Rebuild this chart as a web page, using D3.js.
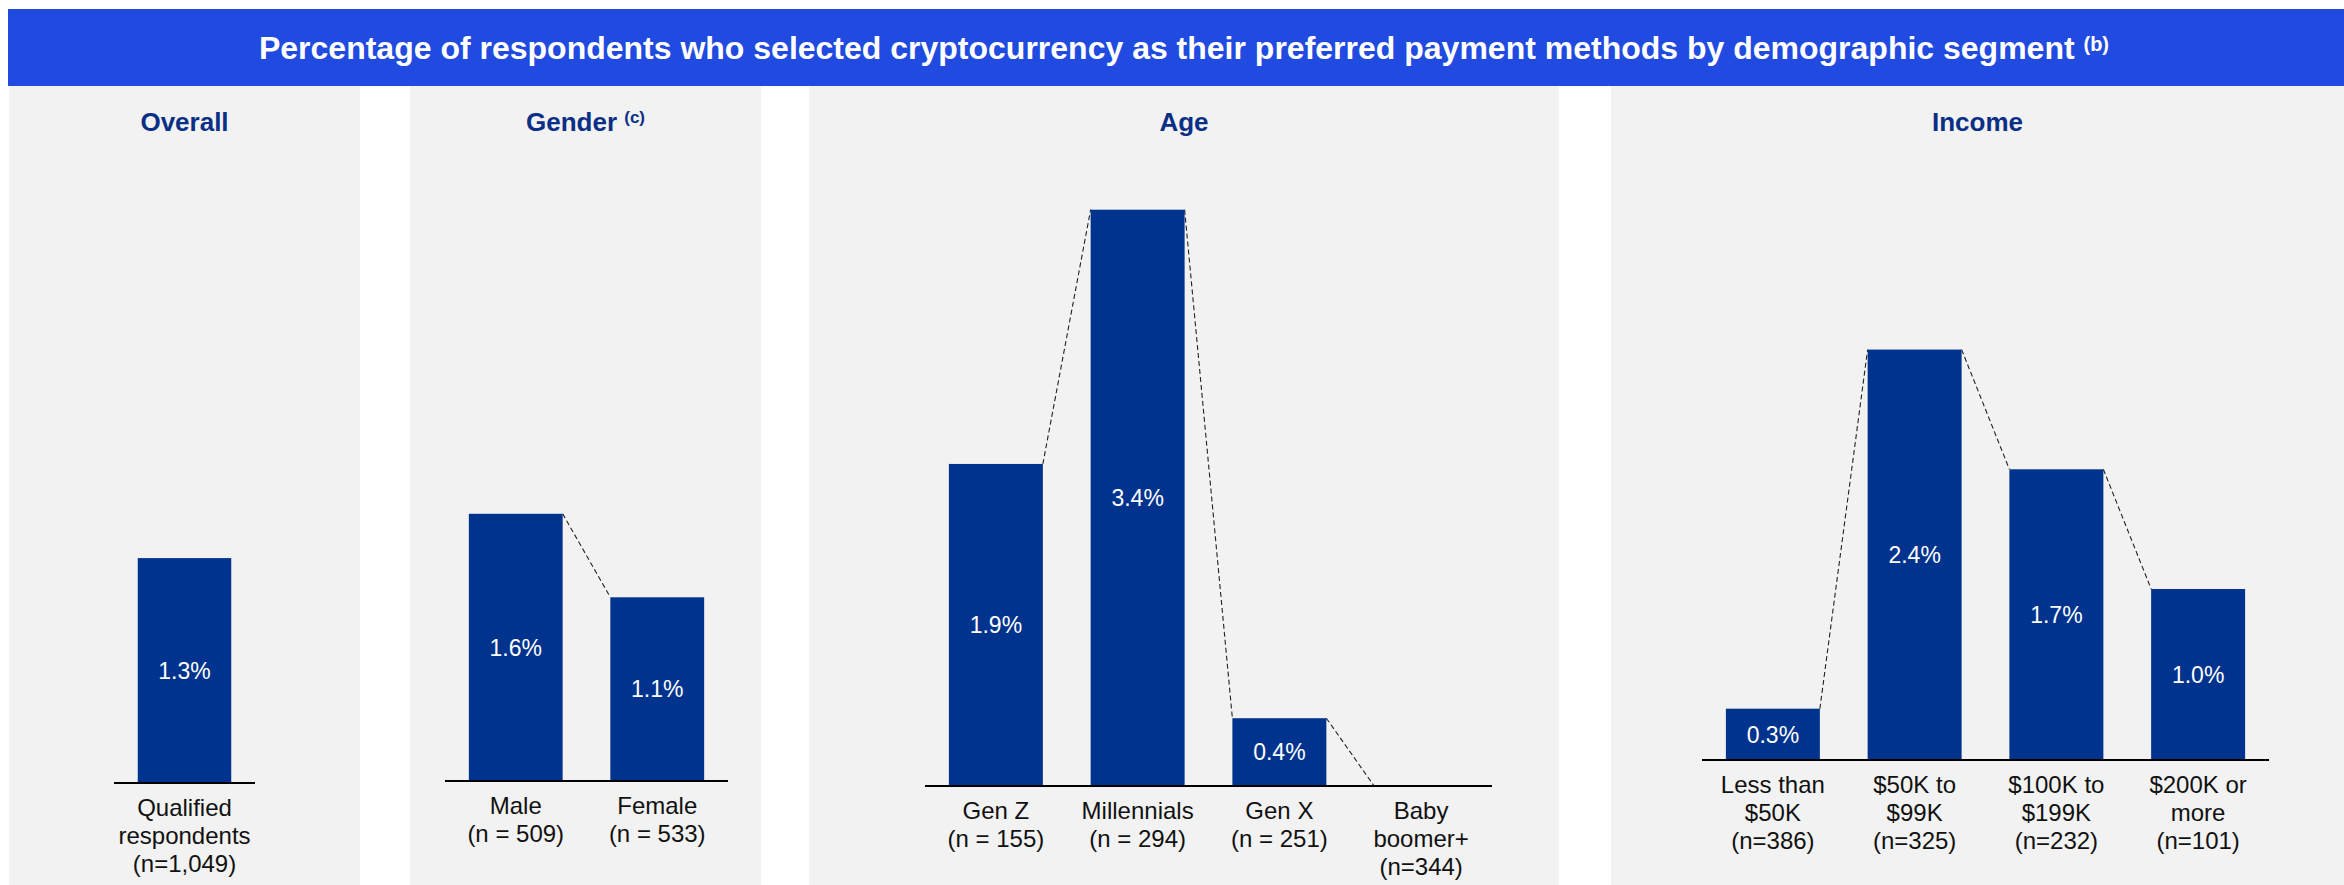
<!DOCTYPE html>
<html>
<head>
<meta charset="utf-8">
<script src="https://cdn.jsdelivr.net/npm/d3@7"></script>
<style>
  html, body { margin: 0; padding: 0; background: #ffffff; }
  svg { display: block; }
  text { font-family: "Liberation Sans", Arial, Helvetica, sans-serif; }
</style>
</head>
<body>
<svg id="chart" width="2344" height="885"></svg>
<script>
// Survey results: share choosing cryptocurrency as preferred payment method (%)
const overallLabels = [["Qualified", "respondents", "(n=1,049)"]];
const overallValues = [1.3];

const genderLabels = [["Male", "(n = 509)"], ["Female", "(n = 533)"]];
const genderValues = [1.6, 1.1];

const ageLabels = [
  ["Gen Z", "(n = 155)"],
  ["Millennials", "(n = 294)"],
  ["Gen X", "(n = 251)"],
  ["Baby", "boomer+", "(n=344)"]
];
const ageValues = [1.9, 3.4, 0.4, 0];

const incomeLabels = [
  ["Less than", "$50K", "(n=386)"],
  ["$50K to", "$99K", "(n=325)"],
  ["$100K to", "$199K", "(n=232)"],
  ["$200K or", "more", "(n=101)"]
];
const incomeValues = [0.3, 2.4, 1.7, 1.0];

const panelTitles = ["Overall", "Gender", "Age", "Income"];
const panelNotes = ["", "(c)", "", ""];
const chartTitle = "Percentage of respondents who selected cryptocurrency as their preferred payment methods by demographic segment";
const chartNote = "(b)";

// Layout of each panel: background extent, axis extent, baseline and pixels per percentage point
const panelLayout = [
  { bg: [9, 360],     axis: [114, 255],   base: 783, ppu: 173 },
  { bg: [410, 761],   axis: [445, 728],   base: 781, ppu: 167 },
  { bg: [809, 1559],  axis: [925, 1492],  base: 786, ppu: 169.5 },
  { bg: [1611, 2344], axis: [1702, 2269], base: 760, ppu: 171 }
];

const panels = [
  { labels: overallLabels, values: overallValues },
  { labels: genderLabels, values: genderValues },
  { labels: ageLabels, values: ageValues },
  { labels: incomeLabels, values: incomeValues }
];

const C = {
  header: "#214AE0",
  bar: "#00338D",
  heading: "#0A2F86",
  panel: "#F2F2F2",
  text: "#111111"
};

const svg = d3.select("#chart");
const fmt = v => d3.format(".1f")(v) + "%";

// Header band
svg.append("rect")
  .attr("x", 8).attr("y", 9).attr("width", 2344 - 8).attr("height", 77)
  .attr("fill", C.header);

const title = svg.append("text")
  .attr("x", 1184).attr("y", 59)
  .attr("text-anchor", "middle")
  .attr("fill", "#ffffff")
  .attr("font-weight", "bold")
  .attr("font-size", 32);
title.append("tspan").text(chartTitle + " ");
title.append("tspan").attr("font-size", 20).attr("dy", -8).text(chartNote);

panels.forEach((p, i) => {
  const L = panelLayout[i];
  const g = svg.append("g");

  // Panel background
  g.append("rect")
    .attr("x", L.bg[0]).attr("y", 86)
    .attr("width", L.bg[1] - L.bg[0]).attr("height", 885 - 86)
    .attr("fill", C.panel);

  // Panel heading
  const h = g.append("text")
    .attr("x", (L.bg[0] + L.bg[1]) / 2).attr("y", 131)
    .attr("text-anchor", "middle")
    .attr("fill", C.heading)
    .attr("font-weight", "bold")
    .attr("font-size", 26);
  h.append("tspan").text(panelTitles[i]);
  if (panelNotes[i]) {
    h.append("tspan").text(" ");
    h.append("tspan").attr("font-size", 17).attr("dy", -8).text(panelNotes[i]);
  }

  const idx = d3.range(p.values.length);
  const x = d3.scaleBand()
    .domain(idx)
    .range(L.axis)
    .paddingInner(0.337)
    .paddingOuter(0.1685);
  const y = d3.scaleLinear()
    .domain([0, 4])
    .range([L.base, L.base - 4 * L.ppu]);

  // Dashed connectors between neighbouring bar tops
  d3.pairs(idx).forEach(([a, b]) => {
    g.append("line")
      .attr("x1", x(a) + x.bandwidth()).attr("y1", y(p.values[a]))
      .attr("x2", x(b)).attr("y2", y(p.values[b]))
      .attr("stroke", "#222")
      .attr("stroke-width", 1.1)
      .attr("stroke-dasharray", "5,3");
  });

  // Bars
  g.selectAll("rect.bar")
    .data(idx.filter(d => p.values[d] > 0))
    .join("rect")
    .attr("class", "bar")
    .attr("x", d => x(d))
    .attr("y", d => y(p.values[d]))
    .attr("width", x.bandwidth())
    .attr("height", d => y(0) - y(p.values[d]))
    .attr("fill", C.bar);

  // Value labels centred in each bar
  g.selectAll("text.val")
    .data(idx.filter(d => p.values[d] > 0))
    .join("text")
    .attr("class", "val")
    .attr("x", d => x(d) + x.bandwidth() / 2)
    .attr("y", d => (y(0) + y(p.values[d])) / 2 + 8.2)
    .attr("text-anchor", "middle")
    .attr("fill", "#ffffff")
    .attr("font-size", 23)
    .text(d => fmt(p.values[d]));

  // Baseline
  g.append("line")
    .attr("x1", L.axis[0]).attr("x2", L.axis[1])
    .attr("y1", L.base).attr("y2", L.base)
    .attr("stroke", "#000")
    .attr("stroke-width", 2);

  // Category labels
  idx.forEach(d => {
    const t = g.append("text")
      .attr("text-anchor", "middle")
      .attr("fill", C.text)
      .attr("font-size", 24);
    p.labels[d].forEach((line, k) => {
      t.append("tspan")
        .attr("x", x(d) + x.bandwidth() / 2)
        .attr("y", L.base + 33 + k * 28)
        .text(line);
    });
  });
});
</script>
</body>
</html>
